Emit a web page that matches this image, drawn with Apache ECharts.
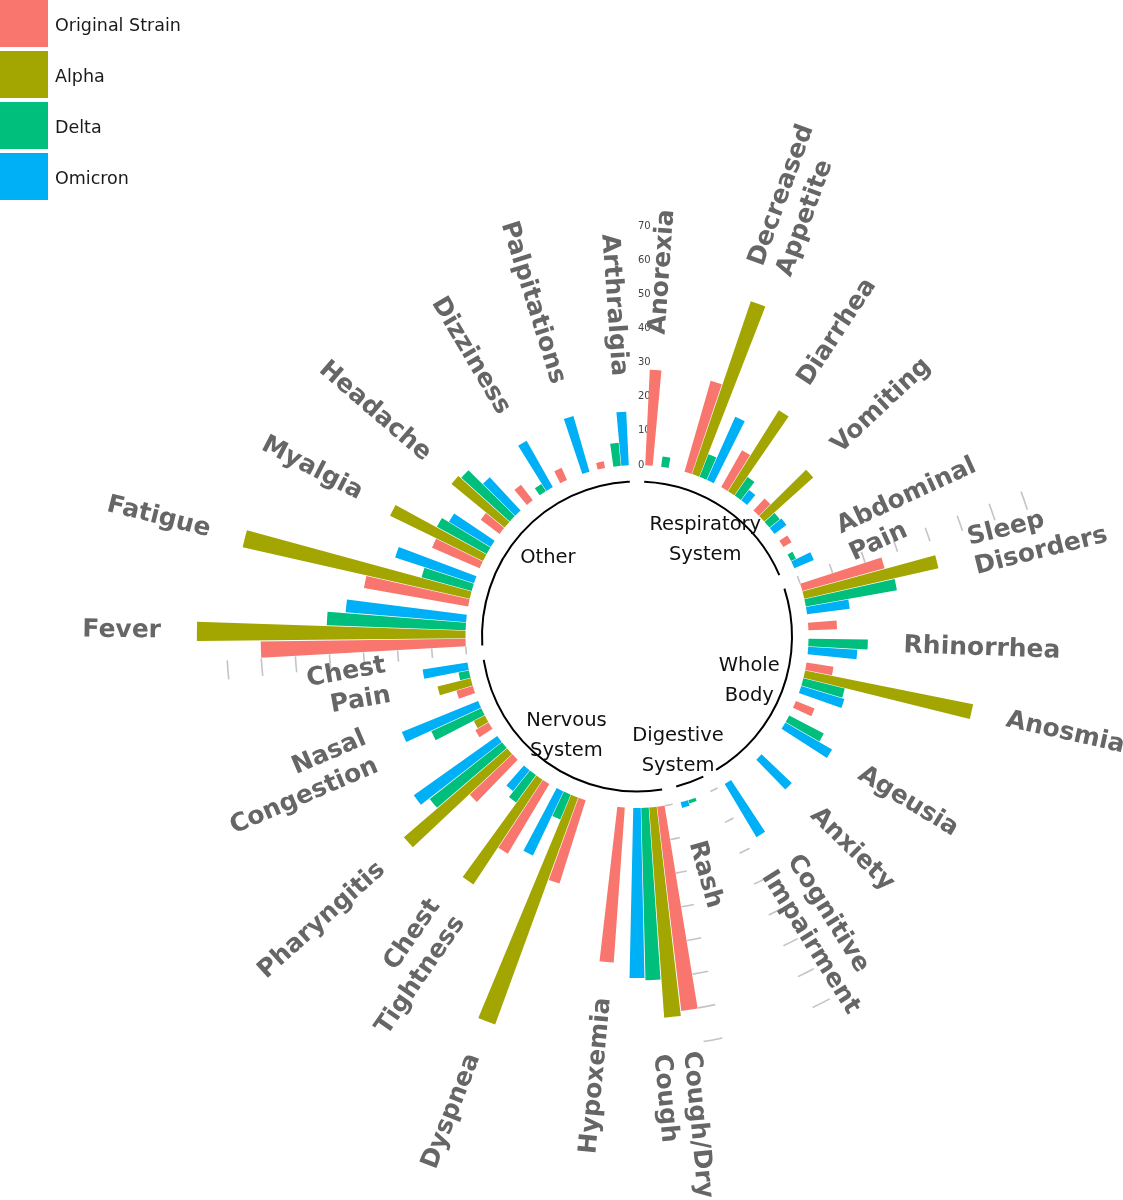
<!DOCTYPE html>
<html><head><meta charset="utf-8">
<script src="https://cdn.jsdelivr.net/npm/echarts@6/dist/echarts.min.js"></script>
<style>html,body{margin:0;padding:0;background:#fff}#c{width:1123px;height:1200px}</style>
</head><body><div id="c"></div>
<script>
// ---- data ----
const symptoms = ['Anorexia','Decreased\nAppetite','Diarrhea','Vomiting','Abdominal\nPain',
  'Sleep\nDisorders','Rhinorrhea','Anosmia','Ageusia','Anxiety','Cognitive\nImpairment',
  'Rash',
  'Cough/Dry\nCough','Hypoxemia','Dyspnea','Chest\nTightness','Pharyngitis','Nasal\nCongestion','Chest\nPain',
  'Fever','Fatigue','Myalgia','Headache','Dizziness','Palpitations','Arthralgia'];
const symptomGroup = [0,0,0,0,0, 1,1,1,1,1,1, 2, 3,3,3,3,3,3,3, 4,4,4,4,4,4,4];
const groups = ['Respiratory\nSystem','Whole\nBody','Digestive\nSystem','Nervous\nSystem','Other'];
const variants = ['Original Strain','Alpha','Delta','Omicron'];
const originalStrain = [28, 27.7, 12.4, 4.8, 2.8, 25, 8.4, 8, 5.9, null, null, null, 60.2, 45.5, 25.6, 23.8, 17.2, 4.5, 5, 60, 31, 15.2, 6.9, 5.7, 3.9, 2];
const alpha          = [null, 53.5, 28, 19.3, null, 40.3, null, 50.2, null, null, null, null, 61.7, null, 70.8, 36.8, 39.9, 3.6, 10, 78.7, 68.2, 30.3, 20.1, null, null, null];
const delta          = [3, 7.1, 6.6, 3.9, 1.6, 27.1, 17.4, 12.5, 11.4, null, null, 1, 50.5, null, 7.9, 9.9, 26.9, 16.1, 3.1, 40.7, 15.2, 16.6, 19.1, 2.5, null, 6.8];
const omicron        = [null, 20.3, 3.8, 4.4, 6.2, 12.6, 14.4, 13.2, 15.8, 12.2, 18.2, 1.7, 49.8, null, 20.8, 7.8, 30, 24.1, 13.3, 35.4, 24.3, 14.3, 13.3, 15.6, 17, 15.7];
const radiusTicks = [0,10,20,30,40,50,60,70];

// ---- layout of angular slots (gap slot before each group, 4 bars + 1 spacer per symptom) ----
const values = [originalStrain, alpha, delta, omicron];
const colors = ['#F8766D','#A3A500','#00BF7D','#00B0F6'];
const slotNames = [], pinkSlot = [], gapSlots = [], groupStart = [], groupEnd = [];
let s = 0;
groups.forEach((g, gi) => {
  gapSlots.push(s); slotNames.push('gap' + gi); s++;
  groupStart[gi] = s;
  symptoms.forEach((sym, i) => {
    if (symptomGroup[i] !== gi) return;
    pinkSlot[i] = s;
    for (let k = 0; k < 5; k++) { slotNames.push(sym + '#' + k); s++; }
  });
  groupEnd[gi] = s - 2;
});
const HALF = Math.PI / slotNames.length;

const barSeries = variants.map((name, v) => {
  const data = slotNames.map(() => null);
  symptoms.forEach((_, i) => { const val = values[v][i]; if (val != null) data[pinkSlot[i] + v] = val; });
  return { type: 'bar', name, coordinateSystem: 'polar', data, barGap: '-100%', barCategoryGap: '6%',
    itemStyle: { color: colors[v] }, silent: true, z: 3 };
});

function polarPoint(api, cs, val, slot) {
  const p = api.coord([val, slot]);
  const dx = p[0] - cs.cx, dy = p[1] - cs.cy;
  return { r: Math.hypot(dx, dy), a: Math.atan2(dy, dx) };
}

const tickData = [];
gapSlots.slice(1).forEach(g => radiusTicks.forEach(v => tickData.push([v, g])));

const tickSeries = {
  type: 'custom', coordinateSystem: 'polar', data: tickData, silent: true, clip: false, z: 1,
  renderItem(params, api) {
    const cs = params.coordSys;
    const q = polarPoint(api, cs, api.value(0), api.value(1));
    return { type: 'arc', shape: { cx: cs.cx, cy: cs.cy, r: q.r, startAngle: q.a - HALF, endAngle: q.a + HALF, clockwise: true },
      style: { stroke: '#c4c4c4', lineWidth: 1.6, fill: null } };
  }
};

const groupData = groups.map((g, i) => [0, groupStart[i], groupEnd[i], i]);
const groupSeries = {
  type: 'custom', coordinateSystem: 'polar', data: groupData, silent: true, clip: false, z: 2,
  renderItem(params, api) {
    const cs = params.coordSys;
    const q0 = polarPoint(api, cs, 0, api.value(1));
    const q1 = polarPoint(api, cs, 0, api.value(2));
    const a0 = q0.a - HALF;
    let e = q1.a + HALF; while (e < a0) e += 2 * Math.PI;
    const mid = (a0 + e) / 2, rl = q0.r - 51.5;
    return { type: 'group', children: [
      { type: 'arc', shape: { cx: cs.cx, cy: cs.cy, r: q0.r - 16.5, startAngle: a0, endAngle: e, clockwise: true },
        style: { stroke: '#000', lineWidth: 2, fill: null } },
      { type: 'text', x: cs.cx + rl * Math.cos(mid), y: cs.cy + rl * Math.sin(mid) + 2,
        style: { text: groups[api.value(3)], fill: '#111', font: '19.5px "DejaVu Sans"', align: 'center', verticalAlign: 'middle', lineHeight: 30 } }
    ] };
  }
};

// label sits above the tallest bar of each symptom
const labelData = symptoms.map((sym, i) => {
  let best = 0, bv = -1;
  values.forEach((a, v) => { if (a[i] != null && a[i] > bv) { bv = a[i]; best = v; } });
  return [bv + 10.5, pinkSlot[i] + best, i];
});
const labelSeries = {
  type: 'custom', coordinateSystem: 'polar', data: labelData, silent: true, clip: false, z: 4,
  renderItem(params, api) {
    const cs = params.coordSys;
    const q = polarPoint(api, cs, api.value(0), api.value(1));
    const theta = ((q.a * 180 / Math.PI + 90) % 360 + 360) % 360;
    const right = theta < 180;
    const rot = (right ? 90 - theta : 270 - theta) * Math.PI / 180;
    return { type: 'text', x: cs.cx + q.r * Math.cos(q.a), y: cs.cy + q.r * Math.sin(q.a), rotation: rot,
      style: { text: symptoms[api.value(2)], fill: '#666666', font: 'bold 25px "DejaVu Sans"',
        align: right ? 'left' : 'right', verticalAlign: 'middle', lineHeight: 30 } };
  }
};

const chart = echarts.init(document.getElementById('c'), null, { renderer: 'canvas' });
chart.setOption({
  animation: false,
  backgroundColor: '#fff',
  legend: { data: variants, orient: 'vertical', left: 0, top: 0, padding: 0, itemWidth: 48, itemHeight: 47, itemGap: 4,
    icon: 'rect', selectedMode: false, formatter: n => '{t|' + n + '}',
    textStyle: { fontSize: 17.5, color: '#1a1a1a', fontFamily: 'DejaVu Sans',
      rich: { t: { fontSize: 17.5, color: '#1a1a1a', fontFamily: 'DejaVu Sans', padding: [5, 0, 0, 2] } } } },
  polar: { center: [637, 636.5], radius: [171.5, 444.6] },
  angleAxis: { type: 'category', data: slotNames, startAngle: 90, clockwise: true,
    axisLine: { show: false }, axisTick: { show: false }, axisLabel: { show: false }, splitLine: { show: false } },
  radiusAxis: { type: 'value', min: 0, max: 80, interval: 10,
    axisLine: { show: false }, axisTick: { show: false }, splitLine: { show: false },
    axisLabel: { fontSize: 10, color: '#444', fontFamily: 'DejaVu Sans', align: 'left', margin: -1,
      formatter: v => v > 70 ? '' : String(v) } },
  series: [tickSeries, groupSeries, ...barSeries, labelSeries]
});
</script></body></html>
